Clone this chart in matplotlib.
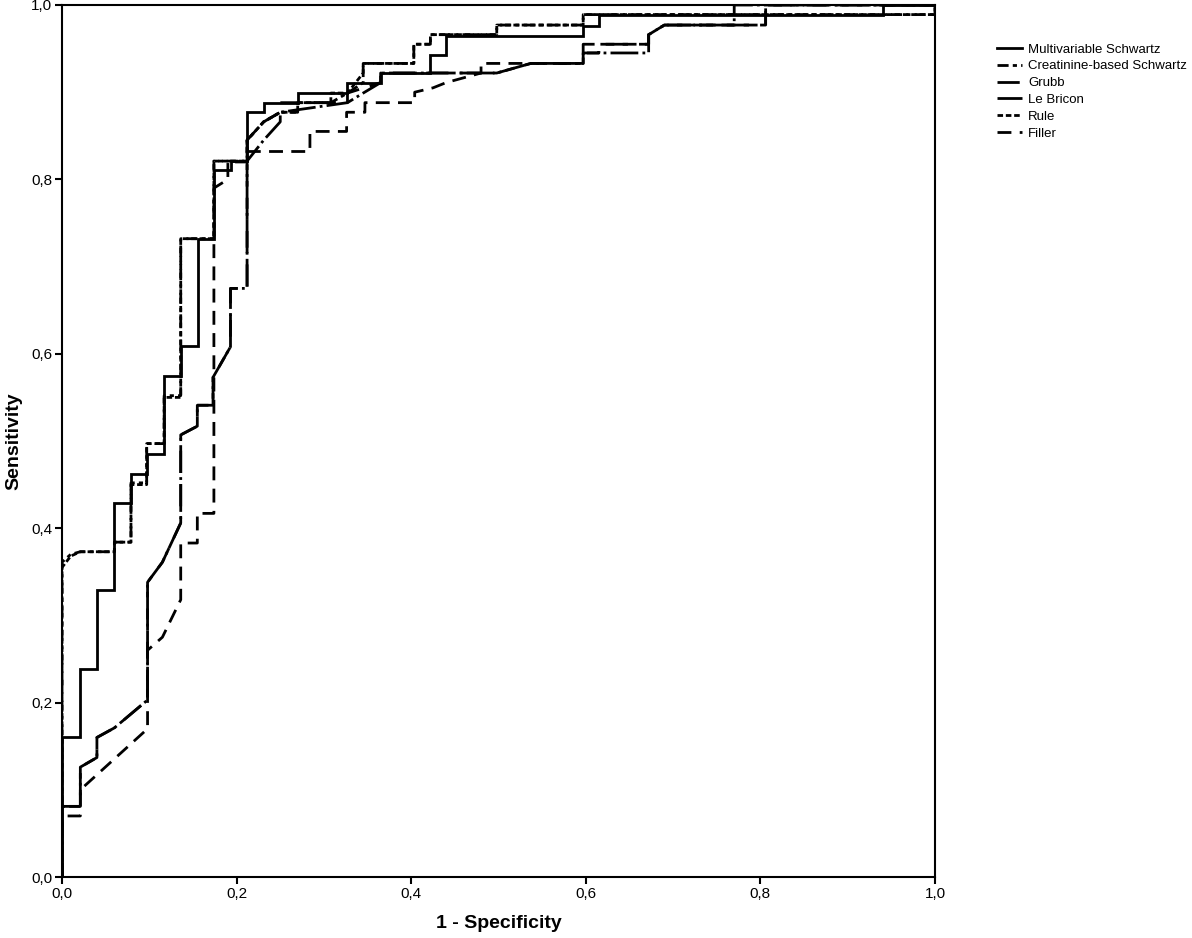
import matplotlib.pyplot as plt
from matplotlib.ticker import FuncFormatter

plt.rcParams["font.family"] = ["Liberation Sans", "DejaVu Sans"]

# ROC curve vertices (1 - specificity, sensitivity)
multi_x = [0, 0, .021, .021, .04, .04, .06, .06, .079, .079, .097, .097, .117, .117,
           .136, .136, .156, .156, .174, .174, .194, .194, .212, .212, .231, .231,
           .27, .27, .327, .327, .365, .365, .422, .422, .44, .44, .597, .597,
           .615, .615, .94, .94, 1.0]
multi_y = [0, .16, .16, .238, .238, .329, .329, .429, .429, .462, .462, .485, .485, .575,
           .575, .609, .609, .732, .732, .811, .811, .821, .821, .877, .877, .888,
           .888, .899, .899, .911, .911, .922, .922, .943, .943, .965, .965, .976,
           .976, .989, .989, 1.0, 1.0]

creat_x = [0, 0, .01, .021, .06, .06, .079, .079, .097, .097, .117, .117, .136, .136,
           .174, .174, .212, .212, .231, .25, .27, .27, .308, .327, .345, .345,
           .403, .403, .422, .422, .498, .498, .597, .597, 1.0, 1.0]
creat_y = [0, .361, .37, .373, .373, .384, .384, .452, .452, .497, .497, .552, .552, .732,
           .732, .821, .821, .845, .866, .877, .877, .888, .888, .899, .911, .933,
           .933, .955, .955, .966, .966, .977, .977, .989, .989, 1.0]

grubb_x = [0, 0, .021, .021, .04, .04, .06, .098, .098, .115, .136, .136, .155, .155,
           .173, .173, .193, .193, .212, .212, .212, .231, .25, .25, .327, .327,
           .365, .365, .498, .537, .597, .597, .672, .672, .69, .806, .806, 1.0]
grubb_y = [0, .081, .081, .126, .137, .16, .171, .203, .338, .361, .406, .507, .517, .541,
           .541, .573, .608, .675, .675, .821, .845, .866, .877, .888, .888, .899,
           .911, .922, .922, .933, .933, .955, .955, .966, .977, .977, 1.0, 1.0]

bricon_x = [0, 0, .021, .021, .04, .04, .06, .098, .098, .115, .136, .136, .155, .155,
            .173, .173, .193, .193, .212, .212, .231, .25, .25, .327, .327, .345,
            .365, .365, .498, .537, .597, .597, .672, .672, .69, .77, .77, 1.0]
bricon_y = [0, .081, .081, .126, .137, .16, .171, .203, .338, .361, .406, .507, .517, .541,
            .541, .573, .608, .675, .675, .821, .845, .866, .877, .888, .888, .899,
            .911, .922, .922, .933, .933, .945, .945, .966, .977, .977, 1.0, 1.0]

rule_x = [0, 0, .01, .021, .06, .06, .079, .079, .097, .097, .117, .117, .136, .136,
          .174, .174, .212, .212, .231, .25, .27, .27, .308, .308, .327, .345, .345,
          .403, .403, .422, .422, .498, .498, .597, .597, 1.0, 1.0]
rule_y = [0, .355, .368, .373, .373, .384, .384, .45, .45, .497, .497, .55, .55, .732,
          .732, .821, .821, .845, .866, .877, .877, .888, .888, .899, .899, .922, .933,
          .933, .955, .955, .966, .966, .977, .977, .989, .989, 1.0]

filler_x = [0, 0, .021, .021, .098, .098, .115, .136, .136, .155, .155, .174, .174,
            .19, .19, .212, .212, .284, .284, .326, .326, .347, .347, .404, .404,
            .425, .44, .48, .48, .597, .597, .615, .615, .672, .672, .69, .806, .806, 1.0]
filler_y = [0, .07, .07, .10, .17, .26, .275, .318, .383, .383, .417, .417, .79,
            .80, .82, .82, .832, .832, .855, .855, .877, .877, .888, .888, .9,
            .905, .911, .922, .933, .933, .945, .945, .955, .955, .966, .977, .977, 1.0, 1.0]

series = [
    ("Multivariable Schwartz", multi_x, multi_y, "-"),
    ("Creatinine-based Schwartz", creat_x, creat_y, (0, (4, 1.5, 1.5, 1.5))),
    ("Grubb", grubb_x, grubb_y, (0, (8, 4))),
    ("Le Bricon", bricon_x, bricon_y, (0, (10, 1.5, 1, 1.5))),
    ("Rule", rule_x, rule_y, (0, (2, 1))),
    ("Filler", filler_x, filler_y, (0, (5, 3))),
]

fig = plt.figure(figsize=(11.92, 9.38), dpi=100)
ax = fig.add_axes([62 / 1192, 1 - 877 / 938, (935 - 62) / 1192, (877 - 5) / 938])

for name, xs, ys, style in series:
    ax.plot(xs, ys, color="black", linestyle=style, linewidth=2, label=name,
            solid_joinstyle="miter")

ax.set_xlim(0, 1)
ax.set_ylim(0, 1)
ticks = [0, 0.2, 0.4, 0.6, 0.8, 1.0]
ax.set_xticks(ticks)
ax.set_yticks(ticks)
comma = FuncFormatter(lambda v, _: f"{v:.1f}".replace(".", ","))
ax.xaxis.set_major_formatter(comma)
ax.yaxis.set_major_formatter(comma)
ax.tick_params(direction="out", length=5, width=1.5, labelsize=11, pad=2)
for spine in ax.spines.values():
    spine.set_linewidth(1.5)

ax.set_xlabel("1 - Specificity", fontsize=14, fontweight="bold", labelpad=10)
ax.set_ylabel("Sensitivity", fontsize=14, fontweight="bold", labelpad=6)

fig.legend(loc="upper left", bbox_to_anchor=(992 / 1192, 1 - 38 / 938),
           frameon=False, fontsize=9.5, handlelength=1.9, handletextpad=0.45,
           labelspacing=0.35, borderaxespad=0)

fig.savefig("out.png", dpi=100)
